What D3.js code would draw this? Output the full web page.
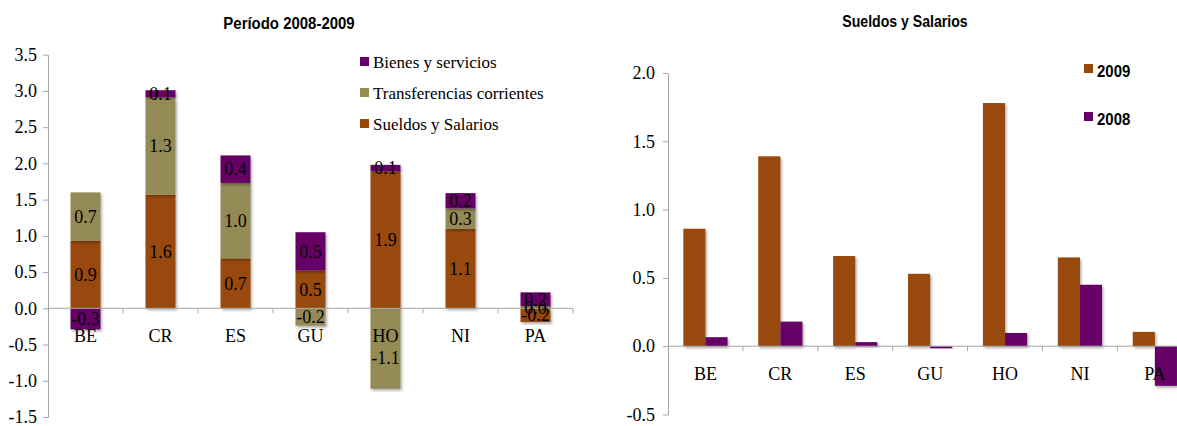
<!DOCTYPE html>
<html>
<head>
<meta charset="utf-8">
<script src="https://cdn.jsdelivr.net/npm/d3@7"></script>
<style>
  body { margin: 0; background: #fff; }
  text { fill: #000; }
</style>
</head>
<body>
<svg id="chart" width="1177" height="426"></svg>
<script>

// ---- data ----
const countries = ['BE', 'CR', 'ES', 'GU', 'HO', 'NI', 'PA'];

// left: period 2008-2009, stacked by item
const sueldos = [0.93, 1.57, 0.69, 0.52, 1.89, 1.10, -0.19];
const transferencias = [0.67, 1.34, 1.04, -0.24, -1.11, 0.28, 0.03];
const bienes = [-0.29, 0.10, 0.38, 0.53, 0.09, 0.21, 0.19];
const stackKeys = ['Sueldos y Salarios', 'Transferencias corrientes', 'Bienes y servicios'];
const leftLegend = ['Bienes y servicios', 'Transferencias corrientes', 'Sueldos y Salarios'];
const leftTicks = [-1.5, -1.0, -0.5, 0.0, 0.5, 1.0, 1.5, 2.0, 2.5, 3.0, 3.5];

// right: sueldos y salarios by year
const years = ['2009', '2008'];
const sal2009 = [0.86, 1.39, 0.66, 0.53, 1.78, 0.65, 0.105];
const sal2008 = [0.066, 0.18, 0.03, -0.015, 0.097, 0.45, -0.29];
const rightTicks = [-0.5, 0.0, 0.5, 1.0, 1.5, 2.0];

const colors = {
    'Sueldos y Salarios': '#984807',
    'Transferencias corrientes': '#948a54',
    'Bienes y servicios': '#660066',
    '2009': '#984807',
    '2008': '#660066'
};

const fmt = d3.formatLocale({decimal: '.', thousands: ',', grouping: [3], currency: ['', ''], minus: '-'}).format('.1f');
const serif = "'Liberation Serif', 'Times New Roman', serif";
const sans = "'Liberation Sans', Arial, sans-serif";
const axisColor = '#a6a6a6';

const svg = d3.select('#chart');

const defs = svg.append('defs');
defs.append('filter')
    .attr('id', 'shadow')
    .attr('x', '-20%').attr('y', '-20%').attr('width', '140%').attr('height', '140%')
    .append('feDropShadow')
    .attr('dx', 1.5).attr('dy', 2).attr('stdDeviation', 1.3)
    .attr('flood-color', '#000').attr('flood-opacity', 0.3);

function condensedText (g, txt, x, y, anchor, sx) {
    return g.append('text')
        .attr('transform', 'translate(' + x + ',' + y + ') scale(' + (sx || 0.88) + ',1)')
        .attr('text-anchor', anchor)
        .style('font-family', sans)
        .style('font-weight', 'bold')
        .style('font-size', '17px')
        .text(txt);
}

function styleAxis (g) {
    g.attr('font-family', serif);
    g.selectAll('path.domain').attr('stroke', axisColor);
    g.selectAll('.tick line').attr('stroke', axisColor);
    g.selectAll('.tick text')
        .attr('font-family', serif)
        .style('font-family', serif)
        .style('font-size', '18px')
        .attr('fill', '#000');
}

// band boundary ticks and baseline along zero
function drawCategoryAxis (g, x, y0, xEnd) {
    g.append('line')
        .attr('x1', x.range()[0]).attr('x2', xEnd)
        .attr('y1', y0).attr('y2', y0)
        .attr('stroke', axisColor);
    d3.range(1, countries.length + 1).forEach(function (i) {
        const bx = x.range()[0] + i * x.step();
        g.append('line')
            .attr('x1', bx).attr('x2', bx)
            .attr('y1', y0).attr('y2', y0 + 5)
            .attr('stroke', axisColor);
    });
    const ax = g.append('g')
        .attr('transform', 'translate(0,' + y0 + ')')
        .call(d3.axisBottom(x).tickSize(0).tickPadding(21));
    ax.select('path.domain').remove();
    styleAxis(ax);
}

// ---- left chart ----
(function () {

    const g = svg.append('g');
    const x = d3.scaleBand().domain(countries).range([48, 573]).paddingInner(0.6).paddingOuter(0.3);
    const y = d3.scaleLinear().domain([-1.5, 3.5]).range([417, 54.7]);
    const y0 = y(0);

    const rows = countries.map(function (c, i) {
        return {
            country: c,
            'Sueldos y Salarios': sueldos[i],
            'Transferencias corrientes': transferencias[i],
            'Bienes y servicios': bienes[i]
        };
    });

    const series = d3.stack()
        .keys(stackKeys)
        .offset(d3.stackOffsetDiverging)(rows);

    const yAxis = g.append('g')
        .attr('transform', 'translate(48,0)')
        .call(d3.axisLeft(y).tickValues(leftTicks).tickFormat(fmt).tickSize(5).tickSizeOuter(0).tickPadding(6));
    styleAxis(yAxis);

    const layers = g.selectAll('.layer')
        .data(series)
        .join('g')
        .attr('class', 'layer')
        .attr('fill', d => colors[d.key]);

    layers.selectAll('rect')
        .data(d => d)
        .join('rect')
        .attr('x', d => x(d.data.country))
        .attr('width', x.bandwidth())
        .attr('y', d => y(d[1]))
        .attr('height', d => Math.abs(y(d[0]) - y(d[1])))
        .attr('filter', 'url(#shadow)');

    drawCategoryAxis(g, x, y0, 573);

    // label at segment middle; long negative segments push it below the category name
    function labelY (d) {
        const mid = y((d[0] + d[1]) / 2);
        const bottom = y(d[0]);
        if (mid > y0 + 25 && mid < y0 + 49 && bottom > y0 + 60) return y0 + 49;
        return mid;
    }

    series.forEach(function (s) {
        g.append('g').selectAll('text')
            .data(s)
            .join('text')
            .attr('x', d => x(d.data.country) + x.bandwidth() / 2)
            .attr('y', labelY)
            .attr('dy', '0.35em')
            .attr('text-anchor', 'middle')
            .style('font-family', serif)
            .style('font-size', '18px')
            .text(d => fmt(d.data[s.key]));
    });

    condensedText(g, 'Período 2008-2009', 289, 29, 'middle');

    const leg = g.append('g').selectAll('g')
        .data(leftLegend)
        .join('g')
        .attr('transform', (d, i) => 'translate(360,' + (57 + i * 31) + ')');
    leg.append('rect')
        .attr('width', 9).attr('height', 9)
        .attr('fill', d => colors[d]);
    leg.append('text')
        .attr('x', 13).attr('y', 11)
        .style('font-family', serif)
        .style('font-size', '17px')
        .text(d => d);

})();

// ---- right chart ----
(function () {

    const g = svg.append('g');
    const x = d3.scaleBand().domain(countries).range([668, 668 + 7 * 74.9]).paddingInner(0.41).paddingOuter(0.205);
    const xs = d3.scaleBand().domain(years).range([0, x.bandwidth()]);
    const y = d3.scaleLinear().domain([-0.5, 2.0]).range([414.5, 73]);

    const rows = countries.map(function (c, i) {
        return {country: c, values: [{year: '2009', v: sal2009[i]}, {year: '2008', v: sal2008[i]}]};
    });

    const yAxis = g.append('g')
        .attr('transform', 'translate(668,0)')
        .call(d3.axisLeft(y).tickValues(rightTicks).tickFormat(fmt).tickSize(5).tickSizeOuter(0).tickPadding(8));
    styleAxis(yAxis);

    g.selectAll('.grp')
        .data(rows)
        .join('g')
        .attr('class', 'grp')
        .attr('transform', d => 'translate(' + x(d.country) + ',0)')
        .selectAll('rect')
        .data(d => d.values)
        .join('rect')
        .attr('x', d => xs(d.year))
        .attr('width', xs.bandwidth())
        .attr('y', d => y(Math.max(0, d.v)))
        .attr('height', d => Math.abs(y(d.v) - y(0)))
        .attr('fill', d => colors[d.year])
        .attr('filter', 'url(#shadow)');

    drawCategoryAxis(g, x, y(0), 1177);

    condensedText(g, 'Sueldos y Salarios', 905, 27, 'middle', 0.83);

    const leg = g.append('g').selectAll('g')
        .data(years)
        .join('g')
        .attr('transform', (d, i) => 'translate(1084,' + (64 + i * 48) + ')');
    leg.append('rect')
        .attr('width', 9).attr('height', 9)
        .attr('fill', d => colors[d]);
    leg.append('g').call(function (s) {
        s.each(function (d) {
            condensedText(d3.select(this), d, 13, 13, 'start');
        });
    });

})();

</script>
</body>
</html>
